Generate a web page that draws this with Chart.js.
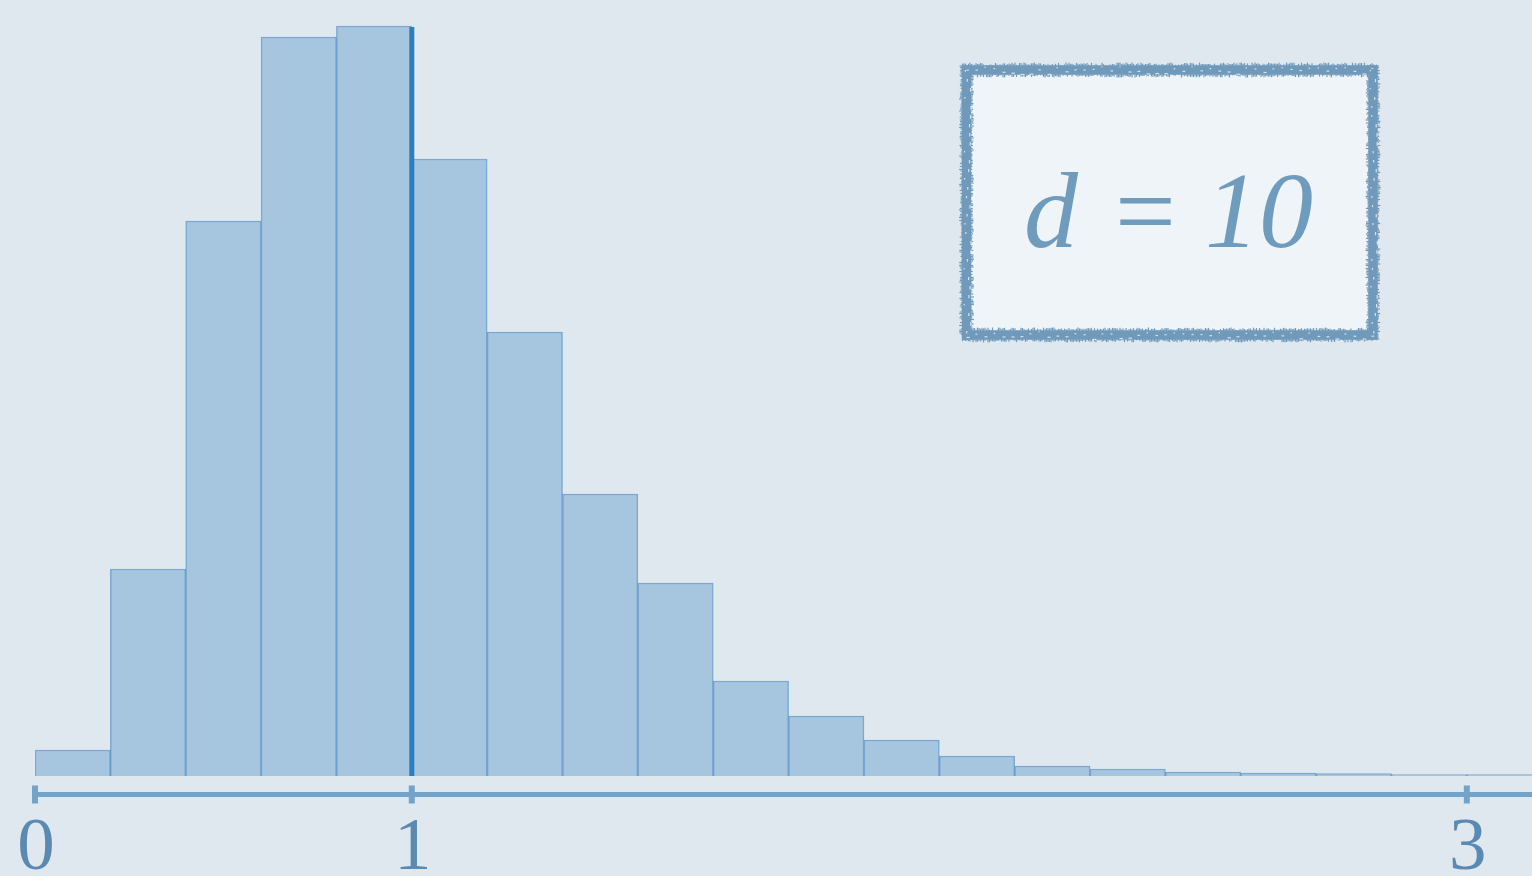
<!DOCTYPE html>
<html>
<head>
<meta charset="utf-8">
<script src="https://cdn.jsdelivr.net/npm/chart.js@4/dist/chart.umd.min.js"></script>
<style>
  html, body { margin: 0; padding: 0; background: #dfe8ef; overflow: hidden; }
  #wrap { width: 1532px; height: 876px; }
</style>
</head>
<body>
<div id="wrap"><canvas id="myChart" width="1532" height="876"></canvas></div>
<script>
// histogram bins (width 0.2) and their heights
const binCenters = [0.1, 0.3, 0.5, 0.7, 0.9, 1.1, 1.3, 1.5, 1.7, 1.9,
                    2.1, 2.3, 2.5, 2.7, 2.9, 3.1, 3.3, 3.5, 3.7, 3.9]
const binCounts = [26, 207, 555, 739, 750, 617, 444, 282, 193, 95,
                   60, 36, 20, 10, 7, 4, 3, 2.5, 1.5, 1.5]

// marker line at x = 1
const markerX = [1, 1]
const markerY = [0, 749]

// axis ticks as shown in the picture
const tickValues = [0, 1, 3.8]
const tickLabels = ['0', '1', '3']

const boxLabel = 'd = 10'

const axisColor = '#73a3c8'
const labelColor = '#5a8ab2'

// small deterministic wobble for the hand-drawn box edge
function wobble(t) {
  const s = Math.sin(t * 12.9898) * 43758.5453
  return s - Math.floor(s)
}

// draws the bottom axis, its ticks and labels from the x scale
const axisPlugin = {
  id: 'axisPlugin',
  afterDatasetsDraw(chart) {
    const ctx = chart.ctx
    const xs = chart.scales.x
    const y = chart.chartArea.bottom - 1.5
    ctx.save()
    ctx.strokeStyle = axisColor
    ctx.lineWidth = 5
    ctx.beginPath()
    ctx.moveTo(xs.getPixelForValue(0), y)
    ctx.lineTo(chart.width, y)
    ctx.stroke()
    ctx.font = '75px "Liberation Serif", "Times New Roman", serif'
    ctx.fillStyle = labelColor
    ctx.textAlign = 'center'
    ctx.textBaseline = 'alphabetic'
    tickValues.forEach((v, i) => {
      const px = xs.getPixelForValue(v)
      ctx.lineWidth = 6
      ctx.beginPath()
      ctx.moveTo(px, y - 9)
      ctx.lineTo(px, y + 9)
      ctx.stroke()
      ctx.fillText(tickLabels[i], px + 1, 869)
    })
    ctx.restore()
  }
}

// the rough-edged label box
const boxPlugin = {
  id: 'boxPlugin',
  afterDraw(chart) {
    const ctx = chart.ctx
    const x0 = 966.5, y0 = 70, x1 = 1373, y1 = 335
    ctx.save()
    ctx.fillStyle = '#eef4f8'
    ctx.fillRect(x0, y0, x1 - x0, y1 - y0)
    ctx.strokeStyle = '#7099bb'
    ctx.lineWidth = 9
    ctx.strokeRect(x0, y0, x1 - x0, y1 - y0)
    // ragged edges, inner and outer
    ctx.lineWidth = 1.2
    const side = (a, b, fixed, horiz, seed) => {
      for (let t = a; t <= b; t += 1.5) {
        const r1 = wobble(t * 0.37 + seed)
        const r2 = wobble(t * 0.53 + seed + 7)
        const out = 4.5 + r1 * 3
        const inn = 4.5 + r2 * 3
        ctx.beginPath()
        if (horiz) {
          ctx.moveTo(t, fixed - out); ctx.lineTo(t, fixed + inn)
        } else {
          ctx.moveTo(fixed - out, t); ctx.lineTo(fixed + inn, t)
        }
        ctx.stroke()
      }
    }
    side(x0 - 4, x1 + 4, y0, true, 1)
    side(x0 - 4, x1 + 4, y1, true, 2)
    side(y0 - 4, y1 + 4, x0, false, 3)
    side(y0 - 4, y1 + 4, x1, false, 4)
    // a few light specks along the stroke
    ctx.fillStyle = 'rgba(238,244,248,0.8)'
    const specks = (a, b, fixed, horiz, seed) => {
      for (let t = a; t <= b; t += 9) {
        const r = wobble(t + seed)
        const off = (r - 0.5) * 8
        const w = 1 + r * 3
        if (horiz) ctx.fillRect(t, fixed + off, w, 1.2)
        else ctx.fillRect(fixed + off, t, 1.2, w)
      }
    }
    specks(x0, x1, y0, true, 11)
    specks(x0, x1, y1, true, 12)
    specks(y0, y1, x0, false, 13)
    specks(y0, y1, x1, false, 14)

    ctx.fillStyle = '#6f9bbd'
    ctx.textBaseline = 'alphabetic'
    ctx.textAlign = 'left'
    ctx.font = 'italic 108px "Liberation Serif", "Times New Roman", serif'
    ctx.fillText('d', 1024, 247)
    ctx.font = '108px "Liberation Serif", "Times New Roman", serif'
    ctx.fillText('=', 1115, 247)
    ctx.font = 'italic 108px "Liberation Serif", "Times New Roman", serif'
    ctx.fillText('10', 1205, 247)
    ctx.restore()
  }
}

const histData = binCenters.map((c, i) => ({ x: c, y: binCounts[i] }))
const markerData = markerX.map((x, i) => ({ x: x, y: markerY[i] }))

const config = {
  type: 'bar',
  data: {
    datasets: [{
      type: 'line',
      data: markerData,
      borderColor: '#2b7ec0',
      borderWidth: 5,
      pointRadius: 0,
      borderCapStyle: 'butt',
      order: 0
    }, {
      label: boxLabel,
      data: histData,
      backgroundColor: '#a6c5de',
      borderColor: 'rgba(55,125,190,0.6)',
      borderWidth: 1.5,
      barPercentage: 1,
      categoryPercentage: 1,
      grouped: false,
      order: 1
    }]
  },
  options: {
    responsive: false,
    animation: false,
    layout: { padding: { left: 35, right: 0, top: 0, bottom: 80 } },
    plugins: { legend: { display: false }, tooltip: { enabled: false } },
    scales: {
      x: { type: 'linear', min: 0, max: 3.973, offset: false, display: false },
      y: { min: -20, max: 776, display: false }
    }
  },
  plugins: [axisPlugin, boxPlugin]
}

var myChart = new Chart(document.getElementById('myChart'), config)
</script>
</body>
</html>
